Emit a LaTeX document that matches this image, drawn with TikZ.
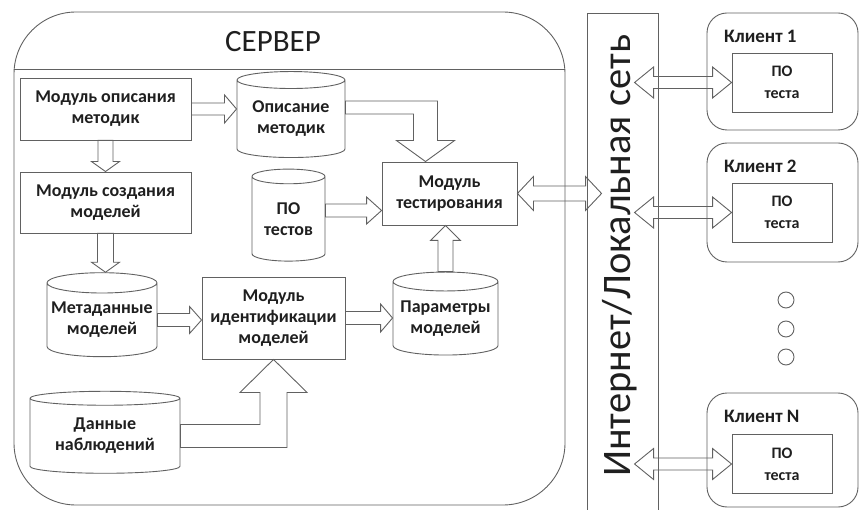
\documentclass[tikz,border=0pt]{standalone}
\usepackage{fontspec}
\setmainfont{Carlito}
\usetikzlibrary{shapes.geometric,calc}
\definecolor{linec}{gray}{0.38}
\definecolor{textc}{gray}{0.12}
\tikzset{
  modbox/.style={draw=linec, line width=0.9pt, align=center, inner sep=0pt,
    text=textc, font=\bfseries\fontsize{18}{21}\selectfont},
  db/.style={cylinder, shape border rotate=90, draw=linec, line width=0.9pt,
    aspect=#1, align=center, inner sep=0pt, text=textc,
    font=\bfseries\fontsize{18}{21}\selectfont},
  blk/.style={draw=linec, line width=0.9pt},
  client/.style={draw=linec, line width=0.9pt, rounded corners=20pt,
    minimum width=151pt, minimum height=#1},
}
\newcommand{\blkright}[5]{%
  \draw[blk] let \p1=#1, \p2=#2 in
    (\x1,\y1+#3) -- (\x2-#5,\y1+#3) -- (\x2-#5,\y1+#4) -- (\x2,\y1)
    -- (\x2-#5,\y1-#4) -- (\x2-#5,\y1-#3) -- (\x1,\y1-#3) -- cycle;}
\newcommand{\blkup}[5]{%
  \draw[blk] let \p1=#1, \p2=#2 in
    (\x1+#3,\y1) -- (\x1+#3,\y2-#5) -- (\x1+#4,\y2-#5) -- (\x1,\y2)
    -- (\x1-#4,\y2-#5) -- (\x1-#3,\y2-#5) -- (\x1-#3,\y1) -- cycle;}
\newcommand{\blkdown}[5]{%
  \draw[blk] let \p1=#1, \p2=#2 in
    (\x1+#3,\y1) -- (\x1+#3,\y2+#5) -- (\x1+#4,\y2+#5) -- (\x1,\y2)
    -- (\x1-#4,\y2+#5) -- (\x1-#3,\y2+#5) -- (\x1-#3,\y1) -- cycle;}
\newcommand{\blkboth}[5]{%
  \draw[blk] let \p1=#1, \p2=#2 in
    (\x1,\y1) -- (\x1+#5,\y1+#4) -- (\x1+#5,\y1+#3) -- (\x2-#5,\y1+#3)
    -- (\x2-#5,\y1+#4) -- (\x2,\y1) -- (\x2-#5,\y1-#4) -- (\x2-#5,\y1-#3)
    -- (\x1+#5,\y1-#3) -- (\x1+#5,\y1-#4) -- cycle;}

\begin{document}
\begin{tikzpicture}[x=1pt, y=1pt]
  \useasboundingbox (0,0) rectangle (859,509);

  % server frame
  \node[draw=linec, line width=0.9pt, rounded corners=62pt,
    minimum width=551pt, minimum height=493pt] (srv) at (289.5,250.5) {};
  \draw[blk] ([yshift=-58pt]srv.north west) -- ([yshift=-58pt]srv.north east);
  \node[text=textc, font=\fontsize{31}{31}\selectfont] (title) at (273,467) {СЕРВЕР};

  \node[modbox, minimum width=171pt, minimum height=62pt] (m1) at (105.5,400) {Модуль описания\\методик};
  \node[modbox, minimum width=171pt, minimum height=61pt] (m2) at (105.5,306.5) {Модуль создания\\моделей};
  \node[modbox, minimum width=135pt, minimum height=63pt] (mt) at (449.5,315.5) {Модуль\\тестирования};
  \node[modbox, minimum width=143pt, minimum height=82pt] (mid) at (273.5,191) {Модуль\\идентификации\\моделей};

  \node[db=0.22, minimum width=108pt, minimum height=86pt] (opis) at (291,390) {Описание\\методик};
  \node[db=0.3, minimum width=73pt, minimum height=92pt] (pot) at (288.5,290) {ПО\\тестов};
  \node[db=0.2, minimum width=110pt, minimum height=84pt] (meta) at (102,189) {Метаданные\\моделей};
  \node[db=0.21, minimum width=105pt, minimum height=83pt] (par) at (445.5,190.5) {Параметры\\моделей};
  \node[db=0.14, minimum width=150pt, minimum height=82pt] (dan) at (105,73) {Данные\\наблюдений};

  % network bar
  \node[draw=linec, line width=0.9pt, minimum width=71pt, minimum height=510pt] (net) at (622.5,241) {};
  \node[rotate=90, text=textc, font=\fontsize{40.5}{40.5}\selectfont] (nettxt) at (620,253) {Интернет/Локальная сеть};

  % clients
  \foreach \i/\lab/\cy/\ch/\py in {1/1/437.5/117/426.5, 2/2/306.5/119/296.5, 3/N/59/114/45} {
    \node[client=\ch pt] (cl\i) at (782.5,\cy) {};
    \node[anchor=base west, text=textc, font=\bfseries\fontsize{19}{19}\selectfont]
      (cllab\i) at ([xshift=14pt,yshift=-30pt]cl\i.north west) {Клиент \lab};
    \node[modbox, minimum width=100pt, minimum height=59pt, font=\bfseries\fontsize{16}{22}\selectfont]
      (po\i) at (782,\py) {ПО\\теста};
    \blkboth{([xshift=48pt]net.west |- po\i.west)}{(po\i.west)}{6pt}{15.5pt}{19pt}
  }
  \foreach \d in {209,180,152}
    \node[draw=linec, line width=0.9pt, circle, minimum size=16pt, inner sep=0pt] (dot\d) at (786,\d) {};

  % arrows
  \blkright{(m1.east)}{(m1.east -| opis.west)}{6pt}{14pt}{12pt}
  \blkdown{(m1.south)}{(m2.north)}{7.5pt}{14pt}{10pt}
  \blkdown{(m2.south)}{(meta.north)}{8pt}{14pt}{10pt}
  \blkright{([yshift=8.5pt]pot.east)}{([yshift=8.5pt]pot.east -| mt.west)}{6.5pt}{13.5pt}{15pt}
  \blkright{(meta.east)}{(meta.east -| mid.west)}{6.5pt}{13.5pt}{12pt}
  \blkright{(mid.east)}{(mid.east -| par.west)}{6.5pt}{14pt}{12pt}
  \blkup{(par.north)}{(par.north |- mt.south)}{7.5pt}{15pt}{15pt}
  \blkboth{(mt.east)}{([xshift=15pt]net.west |- mt.east)}{7.5pt}{17pt}{16pt}

  \coordinate (tipT) at ([xshift=-24pt]mt.north);
  \draw[blk] let \p1=([yshift=11.5pt]opis.east), \p2=(tipT) in
    (\x1,\y1+6.5pt) -- (\x2+12pt,\y1+6.5pt) -- (\x2+12pt,\y2+21pt) -- (\x2+29pt,\y2+21pt)
    -- (\x2,\y2) -- (\x2-29pt,\y2+21pt) -- (\x2-12pt,\y2+21pt) -- (\x2-12pt,\y1-6.5pt)
    -- (\x1,\y1-6.5pt) -- cycle;
  \draw[blk] let \p1=(dan.east), \p2=(mid.south) in
    (\x1,\y1+11.5pt) -- (\x2-13.5pt,\y1+11.5pt) -- (\x2-13.5pt,\y2-33pt) -- (\x2-33.5pt,\y2-33pt)
    -- (\x2,\y2) -- (\x2+33.5pt,\y2-33pt) -- (\x2+13.5pt,\y2-33pt) -- (\x2+13.5pt,\y1-11.5pt)
    -- (\x1,\y1-11.5pt) -- cycle;
\end{tikzpicture}
\end{document}
